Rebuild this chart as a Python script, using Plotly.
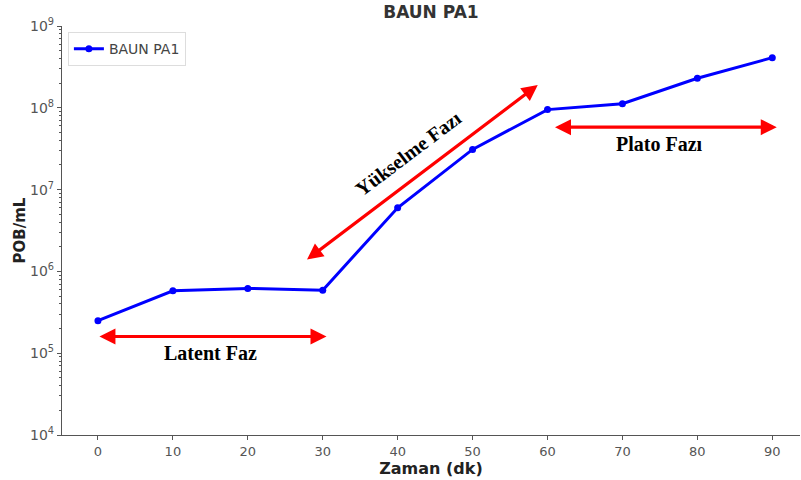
import numpy as np
import plotly.graph_objects as go

time_min = [0, 10, 20, 30, 40, 50, 60, 70, 80, 90]
pob_ml = [2.5e5, 5.8e5, 6.2e5, 5.9e5, 6.0e6, 3.1e7, 9.5e7, 1.12e8, 2.3e8, 4.1e8]
series_name = "BAUN PA1"
x_ticks = [0, 10, 20, 30, 40, 50, 60, 70, 80, 90]
y_ticks = [1e4, 1e5, 1e6, 1e7, 1e8, 1e9]
y_ticktext = ["10<sup>4</sup>", "10<sup>5</sup>", "10<sup>6</sup>", "10<sup>7</sup>", "10<sup>8</sup>", "10<sup>9</sup>"]

# phase arrows: (x_start, y_start, x_end, y_end) in data units
latent_arrow = (0.0, 1.6e5, 30.5, 1.6e5)
plato_arrow = (60.8, 5.8e7, 90.6, 5.8e7)
rise_arrow = (27.7, 1.35e6, 58.7, 1.9e8)
labels = [("Latent Faz", 15.0, 1.0e5, 0), ("Plato Fazı", 75.0, 3.6e7, 0), ("Yükselme Fazı", 41.5, 2.8e7, -37)]

minor_vals = [m * 10 ** d for d in range(4, 9) for m in range(2, 10)]

fig = go.Figure()
fig.add_trace(go.Scatter(x=time_min, y=pob_ml, mode="lines+markers", name=series_name,
                         line=dict(color="#0000ff", width=3), marker=dict(color="#0000ff", size=7)))

axis_col = "#555555"
font_main = "DejaVu Sans, sans-serif"
serif = "Liberation Serif, Times New Roman, serif"

for (x0, y0, x1, y1) in [latent_arrow, plato_arrow, rise_arrow]:
    fig.add_annotation(x=x1, y=np.log10(y1), ax=x0, ay=np.log10(y0), xref="x", yref="y",
                       axref="x", ayref="y", text="", showarrow=True, arrowhead=2,
                       arrowside="end+start", arrowsize=1.0, arrowwidth=3.2, arrowcolor="#ff0000")

for (t, x, y, ang) in labels:
    fig.add_annotation(x=x, y=np.log10(y), xref="x", yref="y", text="<b>%s</b>" % t, showarrow=False,
                       textangle=ang, font=dict(family=serif, size=20, color="#000000"))

fig.update_layout(
    width=801, height=480,
    margin=dict(l=62, r=1, t=26, b=45),
    paper_bgcolor="white", plot_bgcolor="white",
    title=dict(text="<b>BAUN PA1</b>", x=0.538, xanchor="center", y=0.975, yanchor="middle",
               font=dict(family=font_main, size=17, color="#333333")),
    showlegend=True,
    legend=dict(x=0.008, y=0.985, xanchor="left", yanchor="top", bgcolor="white",
                bordercolor="#dddddd", borderwidth=1, font=dict(family=font_main, size=14, color="#444444")),
    font=dict(family=font_main, color=axis_col),
)
fig.update_xaxes(range=[-4.8, 93.7], tickvals=x_ticks, ticks="outside", ticklen=4, tickcolor=axis_col,
                 showline=True, linecolor=axis_col, linewidth=1.2, showgrid=False, zeroline=False,
                 tickfont=dict(family=font_main, size=13, color=axis_col),
                 title=dict(text="<b>Zaman (dk)</b>", font=dict(family=font_main, size=16, color="#222222"), standoff=4))
fig.update_yaxes(type="log", range=[4, 9], tickvals=y_ticks, ticktext=y_ticktext, ticks="outside", ticklen=4,
                 tickcolor=axis_col, showline=True, linecolor=axis_col, linewidth=1.2, showgrid=False,
                 zeroline=False, tickfont=dict(family=font_main, size=14, color=axis_col),
                 minor=dict(tickvals=minor_vals, ticks="outside", ticklen=2, tickcolor=axis_col),
                 title=dict(text="<b>POB/mL</b>", font=dict(family=font_main, size=15, color="#222222"), standoff=0))

fig.write_html("out.html")
